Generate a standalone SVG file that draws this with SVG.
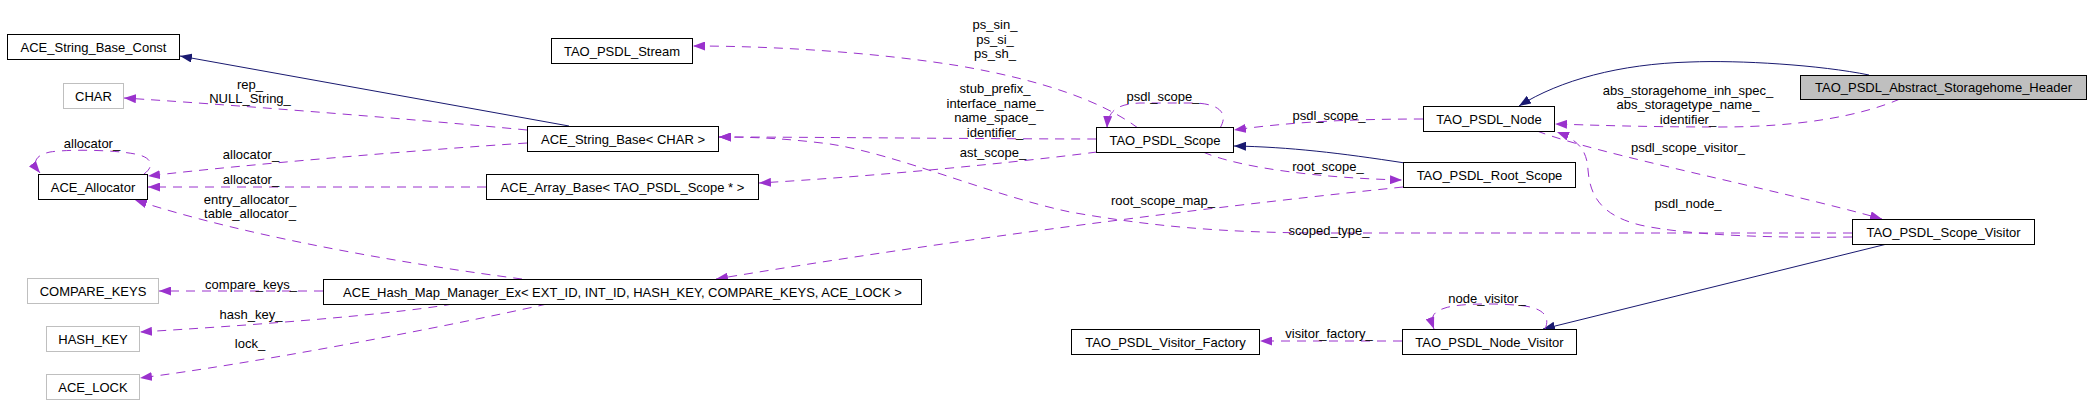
<svg xmlns="http://www.w3.org/2000/svg" width="2091" height="415" viewBox="0 0 2091 415">
<defs>
<style>
.n rect{fill:#fff;stroke:#000;stroke-width:1}
.g rect{fill:#fff;stroke:#bfbfbf;stroke-width:1}
.h rect{fill:#bfbfbf;stroke:#000;stroke-width:1}
text{font-family:"Liberation Sans",Arial,sans-serif;font-size:13px;fill:#000;text-anchor:middle}
.d{fill:none;stroke:#9a32cd;stroke-width:1;stroke-dasharray:9,7;marker-end:url(#ap)}
.s{fill:none;stroke:#191970;stroke-width:1;marker-end:url(#an)}
</style>
<marker id="ap" viewBox="0 0 12 9" refX="12" refY="4.5" markerWidth="12" markerHeight="9" markerUnits="userSpaceOnUse" orient="auto"><path d="M0,0 L12,4.5 L0,9 z" fill="#9a32cd"/></marker>
<marker id="an" viewBox="0 0 12 9" refX="12" refY="4.5" markerWidth="12" markerHeight="9" markerUnits="userSpaceOnUse" orient="auto"><path d="M0,0 L12,4.5 L0,9 z" fill="#191970"/></marker>
</defs>
<rect width="2091" height="415" fill="#fff"/>
<g id="edges">
<path class="s" d="M569,126 L180,56"/>
<path class="d" d="M527,130 C400,118 220,104 124,98"/>
<path class="d" d="M527,143 C420,150 250,164 148,176"/>
<path class="d" d="M144,174 C155,166 152,157 135,154 C115,150 70,149 50,152 C36,155 31,162 40,173"/>
<path class="d" d="M486,187 L148,187"/>
<path class="d" d="M522,279 C420,266 250,238 135,200"/>
<path class="d" d="M323,291 L159,291"/>
<path class="d" d="M453,304 C380,316 240,326 140,332"/>
<path class="d" d="M547,304 C440,328 250,364 140,378"/>
<path class="d" d="M1138,128 C1100,100 1040,80 960,66 C880,53 780,46 693,46"/>
<path class="d" d="M1220,128 C1228,115 1222,104 1195,103 L1140,103 C1118,104 1108,110 1107,128"/>
<path class="d" d="M1096,139 C1000,139 800,137 719,137"/>
<path class="d" d="M1097,152 C1020,162 880,176 759,183"/>
<path class="d" d="M1203,152 C1240,168 1320,178 1402,180"/>
<path class="s" d="M1405,163 C1340,153 1290,147 1234,146"/>
<path class="d" d="M1423,119 C1350,119 1290,122 1234,130"/>
<path class="s" d="M1869,75 C1820,65 1740,60 1690,62 C1620,64 1560,80 1519,106"/>
<path class="d" d="M1900,99 C1860,116 1800,127 1720,127 C1640,127 1590,125 1555,124"/>
<path class="d" d="M1537,131 C1600,155 1780,190 1882,219"/>
<path class="d" d="M1852,237 C1780,238 1690,236 1640,225 C1600,215 1590,195 1588,170 C1587,150 1578,140 1557,132"/>
<path class="d" d="M1852,233 L1330,233 C1220,233 1150,226 1070,212 C990,195 900,155 830,144 C790,139 760,137 719,137"/>
<path class="d" d="M1403,187 C1250,203 1000,232 716,279"/>
<path class="s" d="M1887,244 L1543,329"/>
<path class="d" d="M1545,329 C1550,318 1545,309 1525,306 C1500,303 1460,303 1445,308 C1432,312 1430,318 1434,329"/>
<path class="d" d="M1402,341 L1260,341"/>
</g>
<g id="labels">
<text x="250" y="88.5">rep_</text>
<text x="250" y="102.5">NULL_String_</text>
<text x="92" y="147.5">allocator_</text>
<text x="251" y="158.5">allocator_</text>
<text x="251" y="183.5">allocator_</text>
<text x="250" y="203.5">entry_allocator_</text>
<text x="250" y="217.5">table_allocator_</text>
<text x="251" y="288.5">compare_keys_</text>
<text x="251" y="318.5">hash_key_</text>
<text x="250" y="347.5">lock_</text>
<text x="995" y="28.5">ps_sin_</text>
<text x="995" y="43.5">ps_si_</text>
<text x="995" y="57.5">ps_sh_</text>
<text x="995" y="92.5">stub_prefix_</text>
<text x="995" y="107.5">interface_name_</text>
<text x="995" y="121.5">name_space_</text>
<text x="995" y="136.5">identifier_</text>
<text x="993" y="156.5">ast_scope_</text>
<text x="1163" y="100.5">psdl_scope_</text>
<text x="1329" y="119.5">psdl_scope_</text>
<text x="1328" y="170.5">root_scope_</text>
<text x="1163" y="204.5">root_scope_map_</text>
<text x="1329" y="234.5">scoped_type_</text>
<text x="1329" y="337.5">visitor_factory_</text>
<text x="1688" y="94.5">abs_storagehome_inh_spec_</text>
<text x="1688" y="108.5">abs_storagetype_name_</text>
<text x="1688" y="123.5">identifier_</text>
<text x="1688" y="151.5">psdl_scope_visitor_</text>
<text x="1688" y="207.5">psdl_node_</text>
<text x="1487" y="302.5">node_visitor_</text>
</g>
<g id="n_string_base_const" class="n"><rect x="7.5" y="34.5" width="172" height="25"/><text x="93.5" y="51.5">ACE_String_Base_Const</text></g>
<g id="n_char" class="g"><rect x="63.5" y="83.5" width="60" height="25"/><text x="93.5" y="100.5">CHAR</text></g>
<g id="n_allocator" class="n"><rect x="38.5" y="174.5" width="109" height="25"/><text x="93" y="191.5">ACE_Allocator</text></g>
<g id="n_string_base" class="n"><rect x="527.5" y="126.5" width="191" height="25"/><text x="623" y="143.5">ACE_String_Base&lt; CHAR &gt;</text></g>
<g id="n_array_base" class="n"><rect x="486.5" y="174.5" width="272" height="25"/><text x="622.5" y="191.5">ACE_Array_Base&lt; TAO_PSDL_Scope * &gt;</text></g>
<g id="n_compare_keys" class="g"><rect x="27.5" y="278.5" width="131" height="25"/><text x="93" y="295.5">COMPARE_KEYS</text></g>
<g id="n_hash_key" class="g"><rect x="46.5" y="326.5" width="93" height="25"/><text x="93" y="343.5">HASH_KEY</text></g>
<g id="n_ace_lock" class="g"><rect x="46.5" y="374.5" width="93" height="25"/><text x="93" y="391.5">ACE_LOCK</text></g>
<g id="n_hash_map" class="n"><rect x="323.5" y="279.5" width="598" height="25"/><text x="622.5" y="296.5">ACE_Hash_Map_Manager_Ex&lt; EXT_ID, INT_ID, HASH_KEY, COMPARE_KEYS, ACE_LOCK &gt;</text></g>
<g id="n_stream" class="n"><rect x="551.5" y="38.5" width="141" height="25"/><text x="622" y="55.5">TAO_PSDL_Stream</text></g>
<g id="n_scope" class="n"><rect x="1096.5" y="127.5" width="137" height="25"/><text x="1165" y="144.5">TAO_PSDL_Scope</text></g>
<g id="n_node" class="n"><rect x="1423.5" y="106.5" width="131" height="25"/><text x="1489" y="123.5">TAO_PSDL_Node</text></g>
<g id="n_root_scope" class="n"><rect x="1403.5" y="162.5" width="172" height="25"/><text x="1489.5" y="179.5">TAO_PSDL_Root_Scope</text></g>
<g id="n_header" class="h"><rect x="1800.5" y="75.5" width="286" height="24"/><text x="1943.5" y="92">TAO_PSDL_Abstract_Storagehome_Header</text></g>
<g id="n_scope_visitor" class="n"><rect x="1852.5" y="219.5" width="182" height="25"/><text x="1943.5" y="236.5">TAO_PSDL_Scope_Visitor</text></g>
<g id="n_visitor_factory" class="n"><rect x="1071.5" y="329.5" width="188" height="25"/><text x="1165.5" y="346.5">TAO_PSDL_Visitor_Factory</text></g>
<g id="n_node_visitor" class="n"><rect x="1402.5" y="329.5" width="174" height="25"/><text x="1489.5" y="346.5">TAO_PSDL_Node_Visitor</text></g>
</svg>
